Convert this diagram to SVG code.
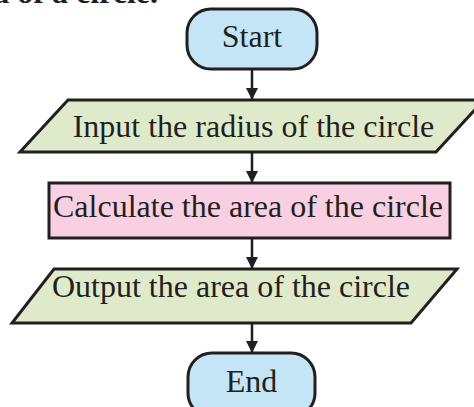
<svg xmlns="http://www.w3.org/2000/svg" width="474" height="407" viewBox="0 0 474 407">
<defs>
<marker id="ah" viewBox="0 0 12 16" refX="12" refY="8" markerWidth="12" markerHeight="16" markerUnits="userSpaceOnUse" orient="auto">
<path d="M0,2 L12,8 L0,14 Z" fill="#231f20"/>
</marker>
<style>
.sh{stroke:#231f20;stroke-width:3;stroke-linejoin:miter}
.term{fill:#c4e5f6}
.io{fill:#dfeacb}
.proc{fill:#f8d0e2}
.t{font-family:"Liberation Serif","Times New Roman",serif;font-size:32px;fill:#231f20;text-anchor:middle}
.cn{stroke:#231f20;stroke-width:2.5;fill:none}
</style>
</defs>
<rect width="474" height="407" fill="#ffffff"/>
<text x="158" y="3" font-family="'Liberation Serif','Times New Roman',serif" font-size="32" font-weight="bold" fill="#231f20" text-anchor="end">a of a circle.</text>
<g id="connectors">
<line class="cn" x1="252" y1="69" x2="252" y2="100" marker-end="url(#ah)"/>
<line class="cn" x1="252" y1="152" x2="252" y2="183" marker-end="url(#ah)"/>
<line class="cn" x1="252" y1="238" x2="252" y2="269" marker-end="url(#ah)"/>
<line class="cn" x1="252" y1="323" x2="252" y2="353" marker-end="url(#ah)"/>
</g>
<g id="start">
<rect class="sh term" x="187" y="9" width="130" height="60" rx="24" ry="24"/>
<text class="t" x="252" y="47">Start</text>
</g>
<g id="input">
<polygon class="sh io" points="68,100 484,100 436,152 20,152"/>
<text class="t" x="253.5" y="137">Input the radius of the circle</text>
</g>
<g id="calculate">
<rect class="sh proc" x="49" y="183" width="401" height="55"/>
<text class="t" x="248" y="217">Calculate the area of the circle</text>
</g>
<g id="output">
<polygon class="sh io" points="54,269 457,269 411,323 12,323"/>
<text class="t" x="231" y="297">Output the area of the circle</text>
</g>
<g id="end">
<rect class="sh term" x="188" y="353" width="127" height="64" rx="24" ry="24"/>
<text class="t" x="251.5" y="392">End</text>
</g>
</svg>
